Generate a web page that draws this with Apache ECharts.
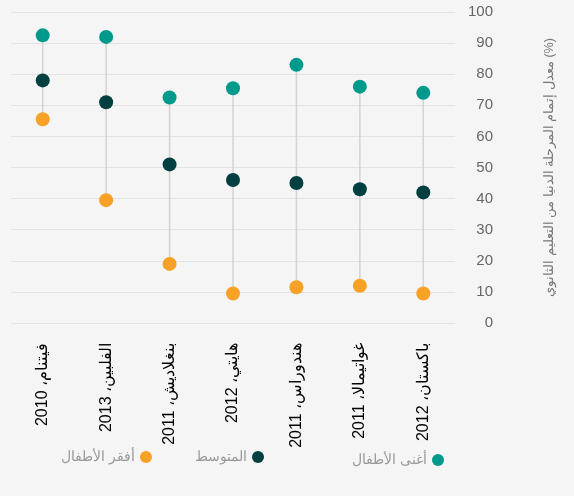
<!DOCTYPE html>
<html>
<head>
<meta charset="utf-8">
<script src="https://cdn.jsdelivr.net/npm/echarts@6/dist/echarts.min.js"></script>
<style>
  html, body { margin: 0; padding: 0; background: #f5f5f5; }
  #main { width: 574px; height: 496px; }
</style>
</head>
<body>
<div id="main"></div>
<script>
// categories (country, survey year)
let countries = ['فيتنام، 2010', 'الفلبين، 2013', 'بنغلاديش، 2011', 'هايتي، 2012', 'هندوراس، 2011', 'غواتيمالا، 2011', 'باكستان، 2012'];
// lower secondary completion rate (%)
let richest = [92.5, 92, 72.5, 75.5, 83, 76, 74];
let average = [78, 71, 51, 46, 45, 43, 42];
let poorest = [65.5, 39.5, 19, 9.5, 11.5, 12, 9.5];
let yTicks = [0, 100, 10];

let seriesNames = ['أغنى الأطفال', 'المتوسط', 'أفقر الأطفال'];
let colors = ['#009a8d', '#013f40', '#f7a127'];
let font = '"Liberation Sans", Arial, sans-serif';

let chart = echarts.init(document.getElementById('main'));

// range line from poorest to richest per country
let rangeData = countries.map(function(c, i){
    return [i, poorest[i], richest[i]];
});

let legendFor = function(name, right, top){
    return {
        data: [name],
        right: right,
        top: top,
        align: 'right',
        icon: 'circle',
        itemWidth: 12,
        itemHeight: 12,
        textStyle: { color: '#999', fontSize: 14, fontFamily: font }
    };
};

let option = {
    backgroundColor: '#f5f5f5',
    animation: false,
    grid: { left: 11, right: 119, top: 12, bottom: 173 },
    legend: [
        legendFor(seriesNames[0], 125, 448),
        legendFor(seriesNames[1], 305, 445),
        legendFor(seriesNames[2], 417, 445)
    ],
    xAxis: {
        type: 'category',
        data: countries,
        axisLine: { show: false },
        axisTick: { show: false },
        axisLabel: {
            rotate: 90,
            margin: 20,
            interval: 0,
            color: '#000',
            fontSize: 16,
            fontFamily: font
        }
    },
    yAxis: {
        type: 'value',
        position: 'right',
        min: yTicks[0],
        max: yTicks[1],
        interval: yTicks[2],
        name: 'معدل إتمام المرحلة الدنيا من التعليم الثانوي (%)',
        nameLocation: 'middle',
        nameRotate: 90,
        nameGap: 88,
        nameTextStyle: { color: '#777', fontSize: 12.5, fontFamily: font },
        axisLine: { show: false },
        axisTick: { show: false },
        splitLine: { lineStyle: { color: '#e4e4e4', width: 1 } },
        axisLabel: {
            align: 'right',
            margin: 38,
            color: '#666',
            fontSize: 15,
            fontFamily: font
        }
    },
    series: [
        {
            type: 'custom',
            name: 'range',
            z: 1,
            silent: true,
            data: rangeData,
            renderItem: function(params, api){
                let p1 = api.coord([api.value(0), api.value(1)]);
                let p2 = api.coord([api.value(0), api.value(2)]);
                return {
                    type: 'line',
                    shape: { x1: p1[0], y1: p1[1], x2: p2[0], y2: p2[1] },
                    style: { stroke: '#d3d3d3', lineWidth: 1.5 }
                };
            }
        },
        {
            type: 'scatter',
            name: seriesNames[2],
            z: 3,
            symbol: 'circle',
            symbolSize: 14,
            itemStyle: { color: colors[2], opacity: 1 },
            data: poorest
        },
        {
            type: 'scatter',
            name: seriesNames[1],
            z: 3,
            symbol: 'circle',
            symbolSize: 14,
            itemStyle: { color: colors[1], opacity: 1 },
            data: average
        },
        {
            type: 'scatter',
            name: seriesNames[0],
            z: 3,
            symbol: 'circle',
            symbolSize: 14,
            itemStyle: { color: colors[0], opacity: 1 },
            data: richest
        }
    ]
};

chart.setOption(option);
</script>
</body>
</html>
